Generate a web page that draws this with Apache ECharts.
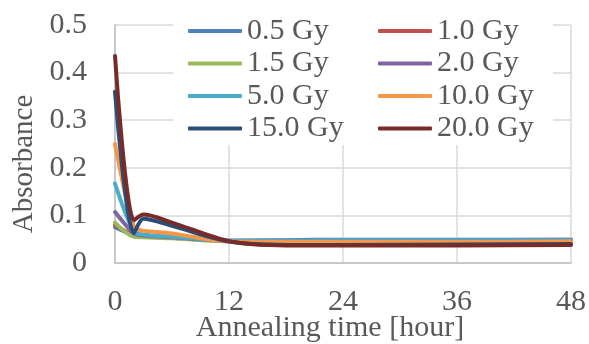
<!DOCTYPE html>
<html>
<head>
<meta charset="utf-8">
<script src="https://cdn.jsdelivr.net/npm/echarts@6/dist/echarts.min.js"></script>
<style>
html,body{margin:0;padding:0;background:#fff;}
#chart{width:589px;height:344px;}
</style>
</head>
<body>
<div id="chart"></div>
<script>
var hours = [0, 2, 3, 6, 12, 18, 24, 36, 48];
var names = ['0.5 Gy', '1.0 Gy', '1.5 Gy', '2.0 Gy', '5.0 Gy', '10.0 Gy', '15.0 Gy', '20.0 Gy'];
var gy05  = [0.075, 0.058, 0.056, 0.053, 0.047, 0.047, 0.048, 0.048, 0.049];
var gy10  = [0.080, 0.058, 0.056, 0.053, 0.046, 0.046, 0.047, 0.047, 0.048];
var gy15  = [0.085, 0.055, 0.054, 0.052, 0.046, 0.046, 0.047, 0.047, 0.047];
var gy20  = [0.107, 0.062, 0.058, 0.054, 0.047, 0.048, 0.049, 0.049, 0.049];
var gy50  = [0.167, 0.065, 0.060, 0.055, 0.047, 0.047, 0.048, 0.048, 0.048];
var gy100 = [0.250, 0.075, 0.068, 0.062, 0.045, 0.044, 0.044, 0.044, 0.045];
var gy150 = [0.360, 0.063, 0.093, 0.078, 0.045, 0.038, 0.038, 0.039, 0.040];
var gy200 = [0.435, 0.090, 0.102, 0.085, 0.046, 0.037, 0.037, 0.037, 0.038];
var values = [gy05, gy10, gy15, gy20, gy50, gy100, gy150, gy200];
var colors = ['#4F81BD', '#C0504D', '#9BBB59', '#8064A2', '#4BACC6', '#F79646', '#2C4D75', '#772C2A'];

var font = '"Liberation Serif", "Times New Roman", serif';
var textColor = '#595959';

function pairs(v) {
  return hours.map(function (h, i) { return [h, v[i]]; });
}

var series = names.map(function (n, i) {
  return {
    name: n,
    type: 'line',
    data: pairs(values[i]),
    smooth: 0.3,
    showSymbol: false,
    symbol: 'none',
    lineStyle: { color: colors[i], width: 4, cap: 'round', join: 'round' },
    itemStyle: { color: colors[i] },
    z: 3 + i
  };
});

var legendCommon = {
  orient: 'vertical',
  top: 16,
  icon: 'roundRect',
  itemWidth: 54,
  itemHeight: 4,
  itemGap: 2.5,
  padding: 0,
  textStyle: { fontFamily: font, fontSize: 30, color: textColor, lineHeight: 30, padding: [0, 0, 0, 0] }
};

var option = {
  animation: false,
  backgroundColor: '#fff',
  color: colors,
  grid: { left: 115, right: 18, top: 25, bottom: 81, containLabel: false, outerBoundsMode: 'none' },
  graphic: [{
    type: 'rect',
    z: 1,
    shape: { x: 173, y: 18, width: 380, height: 127 },
    style: { fill: '#fff' }
  }],
  legend: [
    Object.assign({}, legendCommon, { left: 188, data: ['0.5 Gy', '1.5 Gy', '5.0 Gy', '15.0 Gy'] }),
    Object.assign({}, legendCommon, { left: 378, data: ['1.0 Gy', '2.0 Gy', '10.0 Gy', '20.0 Gy'] })
  ],
  xAxis: {
    type: 'value',
    min: 0, max: 48, interval: 12,
    name: 'Annealing time [hour]',
    nameLocation: 'middle',
    nameGap: 50,
    nameMoveOverlap: false,
    nameTextStyle: { fontFamily: font, fontSize: 30, color: textColor, padding: [0, 26, 0, 0] },
    axisLine: { show: true, lineStyle: { color: '#BFBFBF', width: 1.5 } },
    axisTick: { show: false },
    axisLabel: { fontFamily: font, fontSize: 30, color: textColor, margin: 24 },
    splitLine: { show: true, lineStyle: { color: '#D9D9D9', width: 1.5 } }
  },
  yAxis: {
    type: 'value',
    min: 0, max: 0.5, interval: 0.1,
    name: 'Absorbance',
    nameLocation: 'middle',
    nameGap: 76,
    nameMoveOverlap: false,
    nameTextStyle: { fontFamily: font, fontSize: 29, color: textColor, padding: [0, 40, 0, 0] },
    axisLine: { show: true, lineStyle: { color: '#BFBFBF', width: 1.5 } },
    axisTick: { show: false },
    axisLabel: { fontFamily: font, fontSize: 30, color: textColor, margin: 28 },
    splitLine: { show: true, lineStyle: { color: '#D9D9D9', width: 1.5 } }
  },
  series: series
};

var chart = echarts.init(document.getElementById('chart'), null, { renderer: 'canvas' });
chart.setOption(option);
</script>
</body>
</html>
